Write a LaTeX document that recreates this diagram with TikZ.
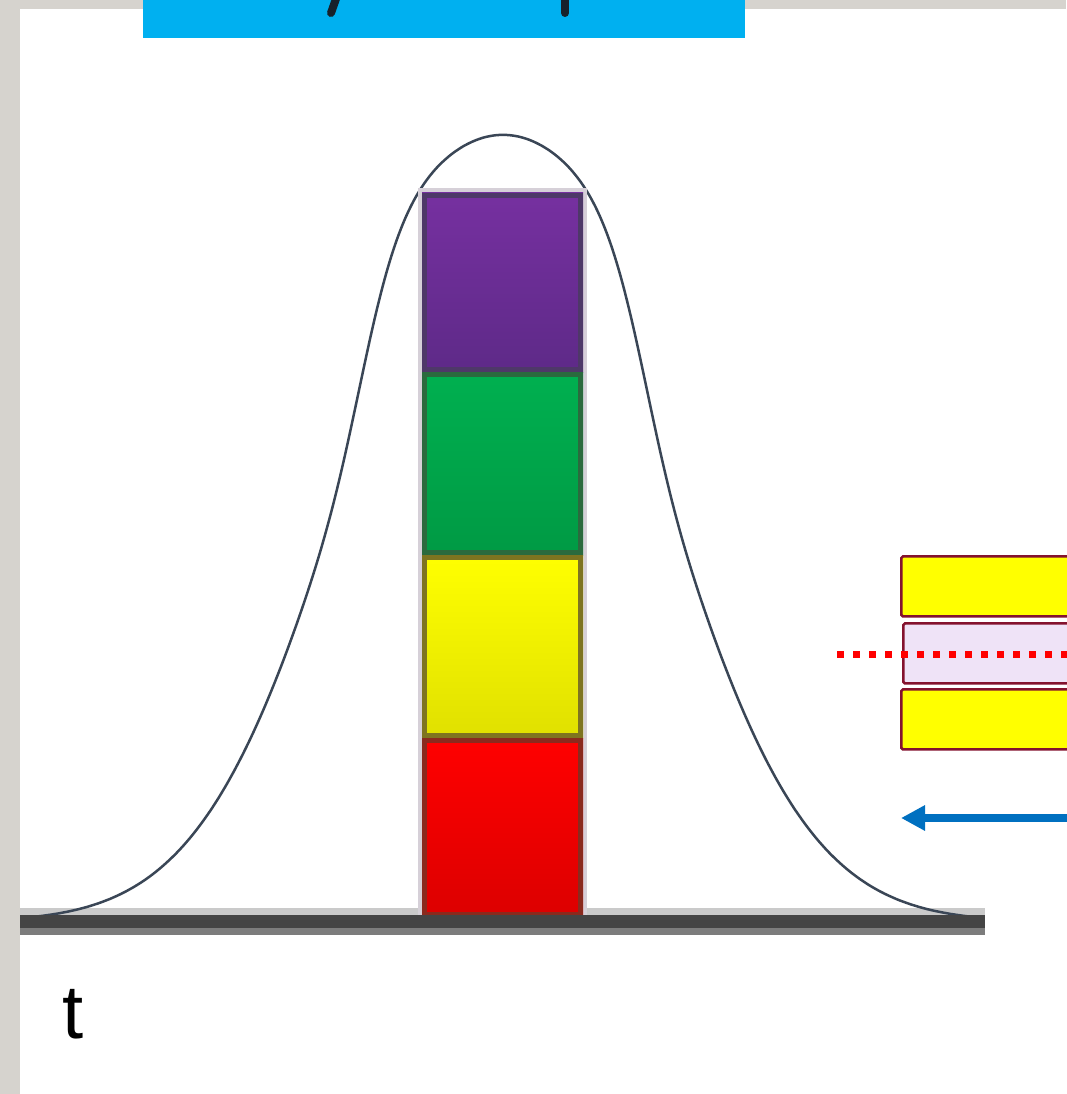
\documentclass[tikz,border=0pt]{standalone}
\usepackage{fontspec}
\setmainfont{Liberation Sans}
\usetikzlibrary{arrows.meta}
\definecolor{bgGray}{HTML}{D6D3CE}
\definecolor{bannerBlue}{HTML}{00B0F0}
\definecolor{glyphDark}{HTML}{17212B}
\definecolor{haloGray}{HTML}{D6D0D8}
\definecolor{purpleTop}{HTML}{7630A0}
\definecolor{purpleBot}{HTML}{5E2A88}
\definecolor{purpleEdge}{HTML}{4E3868}
\definecolor{greenTop}{HTML}{00B050}
\definecolor{greenBot}{HTML}{009A44}
\definecolor{greenEdge}{HTML}{2B6A3E}
\definecolor{yellowTop}{HTML}{FFFF00}
\definecolor{yellowBot}{HTML}{E0E000}
\definecolor{yellowEdge}{HTML}{7E7420}
\definecolor{redTop}{HTML}{FF0000}
\definecolor{redBot}{HTML}{DC0000}
\definecolor{redEdge}{HTML}{8A2A1E}
\definecolor{curveCol}{HTML}{3A4656}
\definecolor{axisLight}{HTML}{CACACA}
\definecolor{axisDark}{HTML}{444444}
\definecolor{axisMid}{HTML}{7C7C7C}
\definecolor{boxEdge}{HTML}{84122E}
\definecolor{boxYellow}{HTML}{FFFF00}
\definecolor{lavender}{HTML}{EFE3F7}
\definecolor{arrowBlue}{HTML}{0070C0}
\tikzset{
  sidebox/.style={draw=boxEdge, line width=2.5pt, anchor=north west, inner sep=0pt,
    minimum width=200pt, minimum height=60pt, rounded corners=1.5pt},
  blockedge/.style={line width=5pt},
  bellcurve/.style={draw=curveCol, line width=2.5pt},
}
\begin{document}
\begin{tikzpicture}[x=1pt,y=-1pt]
\useasboundingbox (0,0) rectangle (1066,1094);
% background
\fill[bgGray] (0,0) rectangle (1066,1094);
\fill[white] (20,9) rectangle (1066,1094);
% banner (text cut off at top edge)
\fill[bannerBlue] (143,0) rectangle (745,38);
\draw[glyphDark, line width=8pt, line cap=round] (337,-4) -- (331,13);
\draw[glyphDark, line width=8pt, line cap=round] (565,-4) -- (565,13);
% axis light band
\fill[axisLight] (20,908) rectangle (985,915);
% bell curve (t in hundreds of px from centre)
\draw[bellcurve] plot[domain=-4.67:4.67, samples=241, smooth]
  ({503+100*\x}, {922-787*exp(-(\x*\x)/(2*pow(1.48+0.85*exp(-min((\x*\x/1.5625)*(\x*\x/1.5625),20)),2)))});
% bar halo
\fill[haloGray] (418,188) rectangle (587,917);
% blocks
\shade[top color=purpleTop, bottom color=purpleBot] (422,193) rectangle (583,372);
\draw[blockedge, purpleEdge] (424.5,195.5) rectangle (580.5,369.5);
\shade[top color=greenTop, bottom color=greenBot] (422,372) rectangle (583,555);
\draw[blockedge, greenEdge] (424.5,374.5) rectangle (580.5,552.5);
\shade[top color=yellowTop, bottom color=yellowBot] (422,555) rectangle (583,738);
\draw[blockedge, yellowEdge] (424.5,557.5) rectangle (580.5,735.5);
\shade[top color=redTop, bottom color=redBot] (422,738) rectangle (583,917);
\draw[blockedge, redEdge] (424.5,740.5) rectangle (580.5,914.5);
% axis
\coordinate (axL) at (20,921.5);
\coordinate (axR) at (985,921.5);
\draw[axisDark, line width=13pt] (axL) -- (axR);
\fill[axisMid] (20,928) rectangle (985,935);
% right boxes
\node[sidebox, fill=boxYellow] (boxTop) at (900.2,555.2) {};
\node[sidebox, fill=lavender] (boxMid) at (902.2,622.2) {};
\node[sidebox, fill=boxYellow] (boxBot) at (900.2,688.2) {};
% red dotted line
\coordinate (dotL) at (837,654);
\coordinate (dotR) at (1075,654);
\draw[red, line width=7pt, dash pattern=on 7pt off 9pt] (dotL) -- (dotR);
% blue arrow
\coordinate (arrR) at (1075,818);
\coordinate (arrL) at (901,818);
\draw[arrowBlue, line width=8pt, -{Triangle[length=24pt, width=24pt]}] (arrR) -- (arrL);
% label t
\node[font=\fontsize{76}{80}\selectfont, anchor=base west, inner sep=0pt] (tlab) at (62,1038) {t};
\end{tikzpicture}
\end{document}
